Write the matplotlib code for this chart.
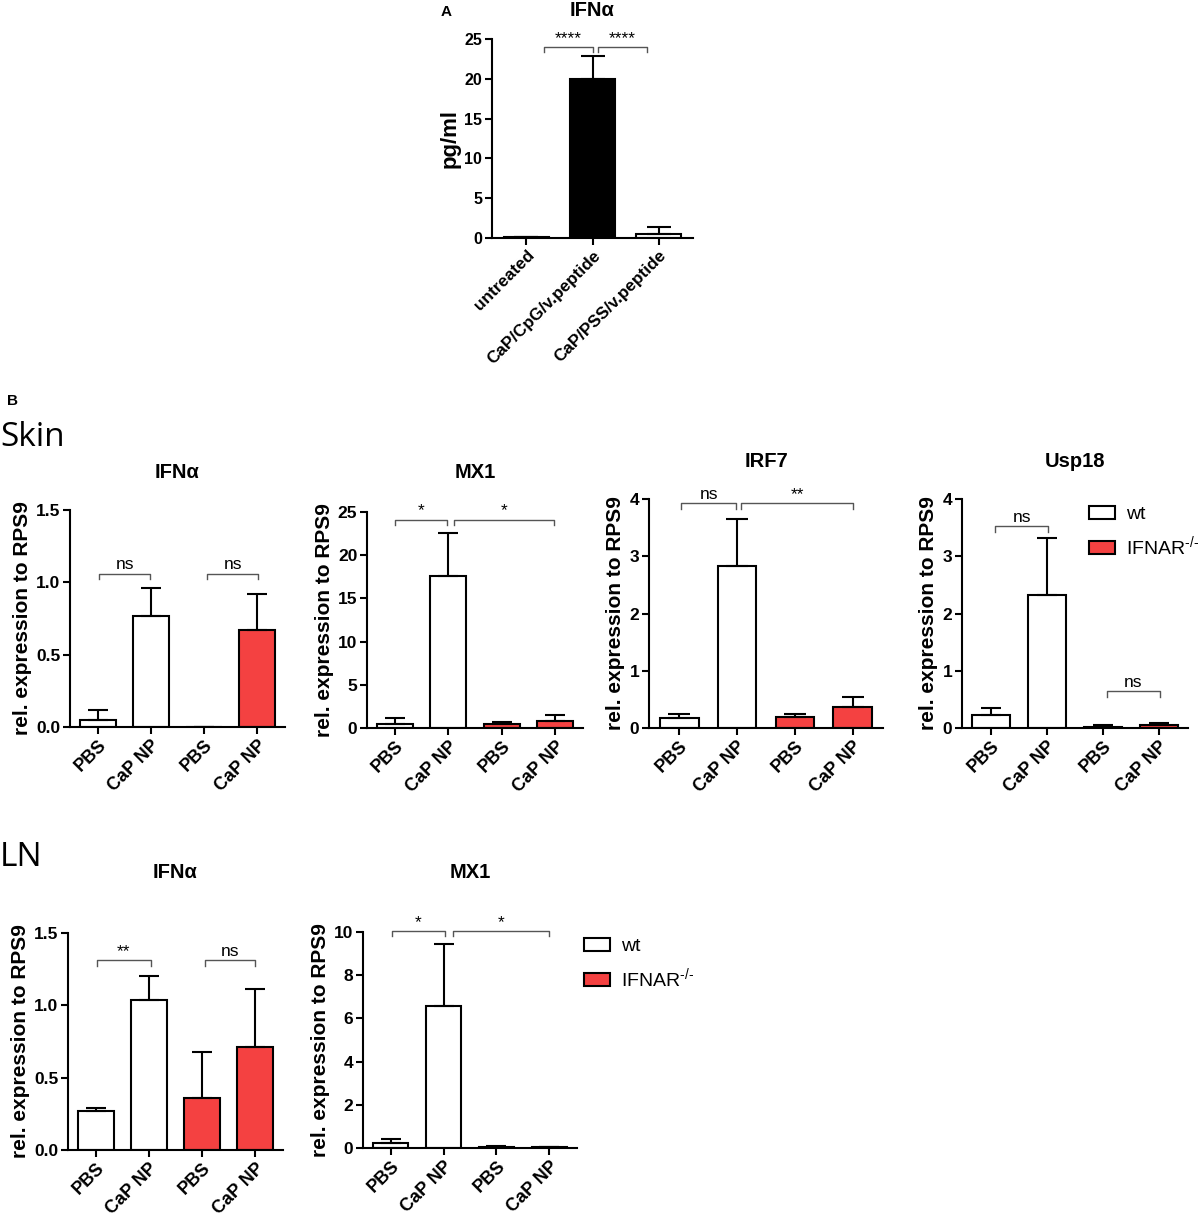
import numpy as np
import matplotlib
matplotlib.use("Agg")
import matplotlib.pyplot as plt
from matplotlib.patches import Patch

plt.rcParams['font.family'] = ['Liberation Sans', 'DejaVu Sans']
plt.rcParams['mathtext.default'] = 'regular'

RED = '#F44141'
W, H = 1199, 1216

# ---- data ----
a_groups = ["untreated", "CaP/CpG/v.peptide", "CaP/PSS/v.peptide"]
a_mean = [0.1, 20.0, 0.5]
a_err = [0.0, 2.9, 0.9]
a_colors = ['white', 'black', 'white']

groups = ["PBS", "CaP NP", "PBS", "CaP NP"]
strains = ["wt", "wt", "IFNAR-/-", "IFNAR-/-"]

skin_ifna_mean = [0.05, 0.77, 0.0, 0.67]
skin_ifna_err = [0.07, 0.19, 0.0, 0.25]
skin_mx1_mean = [0.45, 17.6, 0.5, 0.85]
skin_mx1_err = [0.75, 5.0, 0.25, 0.65]
skin_irf7_mean = [0.18, 2.83, 0.19, 0.36]
skin_irf7_err = [0.07, 0.82, 0.06, 0.19]
skin_usp18_mean = [0.23, 2.32, 0.02, 0.05]
skin_usp18_err = [0.12, 1.0, 0.03, 0.03]

ln_ifna_mean = [0.27, 1.04, 0.36, 0.71]
ln_ifna_err = [0.02, 0.16, 0.32, 0.40]
ln_mx1_mean = [0.22, 6.57, 0.05, 0.03]
ln_mx1_err = [0.20, 2.87, 0.05, 0.03]

# significance brackets: (x1, x2, y, label)
a_sig = [(0.26, 1.0, 24.0, "****"), (1.08, 1.83, 24.0, "****")]
skin_ifna_sig = [(0.02, 0.99, 1.06, "ns"), (2.05, 3.02, 1.06, "ns")]
skin_mx1_sig = [(0.0, 0.98, 24.1, "*"), (1.1, 2.97, 24.1, "*")]
skin_irf7_sig = [(0.04, 0.98, 3.93, "ns"), (1.07, 3.0, 3.93, "**")]
skin_usp18_sig = [(0.07, 1.02, 3.53, "ns"), (2.07, 3.02, 0.65, "ns")]
ln_ifna_sig = [(0.02, 1.04, 1.31, "**"), (2.05, 3.0, 1.31, "ns")]
ln_mx1_sig = [(0.02, 1.02, 10.05, "*"), (1.17, 3.0, 10.05, "*")]


def px_rect(l, t, r, b):
    return [l / W, 1 - b / H, (r - l) / W, (b - t) / H]


def fig_text(fig, x, y, s, **kw):
    fig.text(x / W, 1 - y / H, s, **kw)


def panel(fig, box, title, title_y, labels, mean, err, colors, ymax, yticks,
          ylabel, sig, fmt="{:g}", xfs=13, yfs=12.5, lfs=15):
    ax = fig.add_axes(px_rect(*box))
    n = len(mean)
    x = np.arange(n)
    bw = 0.67 * (box[2] - box[0]) / (n + 0.04)
    ax.bar(x, mean, 0.67, color=colors, edgecolor='black', linewidth=1.5,
           zorder=2)
    ax.errorbar(x, mean, yerr=[np.zeros(n), err], fmt='none', ecolor='black',
                elinewidth=1.5, capsize=bw * 0.28 / 1.389, capthick=1.5,
                zorder=3)
    ax.set_xlim(-0.52, n - 1 + 0.52)
    ax.set_ylim(0, ymax)
    ax.set_yticks(yticks)
    ax.set_yticklabels([fmt.format(t) for t in yticks], fontsize=yfs,
                       fontweight='bold')
    ax.set_xticks(x)
    ax.set_xticklabels(labels, rotation=45, ha='right',
                       rotation_mode='anchor', fontsize=xfs,
                       fontweight='bold')
    for s in ['top', 'right']:
        ax.spines[s].set_visible(False)
    for s in ['left', 'bottom']:
        ax.spines[s].set_linewidth(1.5)
    ax.tick_params(direction='out', length=5, width=1.5, pad=2)
    ax.set_ylabel(ylabel, fontsize=lfs, fontweight='bold', labelpad=3)
    d = ymax * 0.025
    for x1, x2, y, lab in sig:
        ax.plot([x1, x1, x2, x2], [y - d, y, y, y - d], color='#555555',
                lw=1, clip_on=False, zorder=4)
        ax.annotate(lab, ((x1 + x2) / 2, y), xytext=(0, 3),
                    textcoords='offset points', ha='center', va='baseline',
                    fontsize=12.5, annotation_clip=False)
    fig_text(fig, (box[0] + box[2]) / 2, title_y, title, ha='center',
             va='center', fontsize=14.5, fontweight='bold')
    return ax


def main():
    fig = plt.figure(figsize=(W / 100, H / 100), dpi=100)

    wt_red = ['white' if s == 'wt' else RED for s in strains]
    rel = "rel. expression to RPS9"

    # panel A
    panel(fig, (492, 39, 693, 238), "IFNα", 10, a_groups, a_mean, a_err,
          a_colors, 25, [0, 5, 10, 15, 20, 25], "pg/ml", a_sig,
          xfs=12.3, yfs=11.5, lfs=16)
    fig_text(fig, 446, 12, "A", ha='center', va='center', fontsize=11,
             fontweight='bold')

    # panel B - skin
    fig_text(fig, 12, 401, "B", ha='center', va='center', fontsize=11,
             fontweight='bold')
    fig_text(fig, 0, 437, "Skin", ha='left', va='center', fontsize=24,
             family=['Open Sans', 'DejaVu Sans'])
    panel(fig, (70, 510, 285, 727), "IFNα", 473, groups, skin_ifna_mean,
          skin_ifna_err, wt_red, 1.5, [0, 0.5, 1.0, 1.5], rel, skin_ifna_sig,
          fmt="{:.1f}")
    panel(fig, (367, 512, 583, 728), "MX1", 473, groups, skin_mx1_mean,
          skin_mx1_err, wt_red, 25, [0, 5, 10, 15, 20, 25], rel, skin_mx1_sig)
    panel(fig, (649, 499, 883, 728), "IRF7", 462, groups, skin_irf7_mean,
          skin_irf7_err, wt_red, 4, [0, 1, 2, 3, 4], rel, skin_irf7_sig)
    panel(fig, (962, 499, 1188, 728), "Usp18", 462, groups, skin_usp18_mean,
          skin_usp18_err, wt_red, 4, [0, 1, 2, 3, 4], rel, skin_usp18_sig)

    # LN
    fig_text(fig, 0, 858, "LN", ha='left', va='center', fontsize=24,
             family=['Open Sans', 'DejaVu Sans'])
    panel(fig, (68, 933, 283, 1150), "IFNα", 873, groups, ln_ifna_mean,
          ln_ifna_err, wt_red, 1.5, [0, 0.5, 1.0, 1.5], rel, ln_ifna_sig,
          fmt="{:.1f}")
    panel(fig, (363, 932, 577, 1148), "MX1", 873, groups, ln_mx1_mean,
          ln_mx1_err, wt_red, 10, [0, 2, 4, 6, 8, 10], rel, ln_mx1_sig)

    handles = [Patch(facecolor='white', edgecolor='black', linewidth=1.5,
                     label='wt'),
               Patch(facecolor=RED, edgecolor='black', linewidth=1.5,
                     label='IFNAR$^{\u2010/\u2010}$')]
    for lx, ly in [(1089, 506), (584, 938)]:
        fig.legend(handles=handles, loc='upper left',
                   bbox_to_anchor=(lx / W, 1 - ly / H), frameon=False,
                   fontsize=14, handlelength=1.35, handleheight=0.67,
                   labelspacing=0.55, handletextpad=0.55, borderpad=0,
                   borderaxespad=0)

    fig.savefig("out.png", dpi=100)


if __name__ == "__main__":
    main()
